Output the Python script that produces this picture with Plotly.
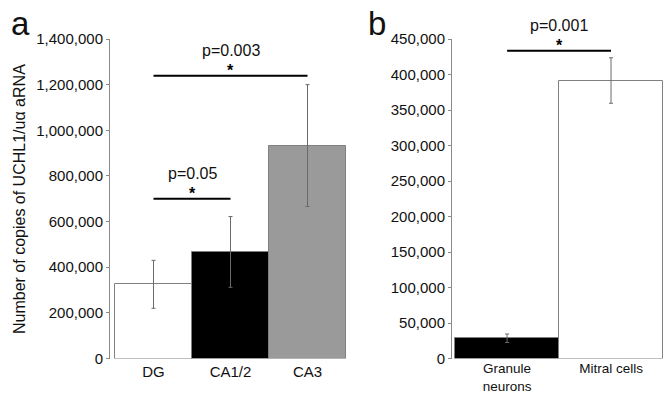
import plotly.graph_objects as go

# Panel a data
cats_a = ["DG", "CA1/2", "CA3"]
vals_a = [325000, 467000, 933000]
err_a = [105000, 155000, 267000]
colors_a = ["#ffffff", "#000000", "#9a9a9a"]

# Panel b data
cats_b = ["Granule neurons", "Mitral cells"]
ticklabels_b = ["Granule<br>neurons", "Mitral cells"]
vals_b = [28500, 391500]
err_b = [6000, 32000]
colors_b = ["#000000", "#ffffff"]

# significance brackets: (x0, x1, y, label)
sig_a = [(0, 2, 1239000, "p=0.003"), (0, 1, 700000, "p=0.05")]
sig_b = [(0, 1, 433600, "p=0.001")]

yticks_a = [0, 200000, 400000, 600000, 800000, 1000000, 1200000, 1400000]
yticks_b = [0, 50000, 100000, 150000, 200000, 250000, 300000, 350000, 400000, 450000]

FONT = "Liberation Sans, Arial, sans-serif"
TXT = "#111111"
W, H = 663, 393

fig = go.Figure()
fig.add_trace(go.Bar(
    x=list(range(len(cats_a))), y=vals_a, xaxis="x", yaxis="y",
    marker=dict(color=colors_a, line=dict(color="#808080", width=1)),
    error_y=dict(type="data", array=err_a, color="#6a6a6a", thickness=1, width=2),
    showlegend=False, width=1.0,
))
fig.add_trace(go.Bar(
    x=list(range(len(cats_b))), y=vals_b, xaxis="x2", yaxis="y2",
    marker=dict(color=colors_b, line=dict(color="#808080", width=1)),
    error_y=dict(type="data", array=err_b, color="#6a6a6a", thickness=1, width=2),
    showlegend=False, width=1.0,
))

def px_x(p):
    return p / W

def px_y(p):
    return (H - p) / H

ydom = [px_y(358.5), px_y(39)]
axis_common = dict(
    showgrid=False, zeroline=False, linecolor="#8a8a8a", linewidth=1,
    ticks="outside", ticklen=3, tickcolor="#8a8a8a", automargin=False,
    tickfont=dict(family=FONT, size=15, color=TXT),
)

fig.update_layout(
    width=W, height=H,
    margin=dict(l=0, r=0, t=0, b=0, autoexpand=False),
    paper_bgcolor="white", plot_bgcolor="white",
    bargap=0,
    font=dict(family=FONT, color=TXT),
    xaxis=dict(domain=[px_x(110), px_x(346)], range=[-0.565, 2.5],
               tickmode="array", tickvals=list(range(len(cats_a))), ticktext=cats_a,
               showline=False, showgrid=False, zeroline=False, ticks="",
               automargin=False, ticklabelstandoff=2,
               tickfont=dict(family=FONT, size=15, color=TXT)),
    yaxis=dict(domain=ydom, range=[0, 1400000], tickvals=yticks_a,
               tickformat=",d", showline=True, **axis_common),
    xaxis2=dict(domain=[px_x(452), 1.0], range=[-0.53, 1.5], anchor="y2",
                tickmode="array", tickvals=list(range(len(cats_b))), ticktext=ticklabels_b,
                showline=False, showgrid=False, zeroline=False, ticks="",
                automargin=False, ticklabelstandoff=0,
                tickfont=dict(family=FONT, size=13.5, color=TXT)),
    yaxis2=dict(domain=ydom, range=[0, 450000], tickvals=yticks_b, anchor="x2",
                tickformat=",d", showline=True, **axis_common),
)

shapes = []
annos = []
for xa, ya, sig in (("x", "y", sig_a), ("x2", "y2", sig_b)):
    for x0, x1, yv, lab in sig:
        shapes.append(dict(type="line", xref=xa, yref=ya, x0=x0, x1=x1, y0=yv, y1=yv,
                           line=dict(color="#000000", width=2)))
        annos.append(dict(xref=xa, yref=ya, x=(x0 + x1) / 2, y=yv, text=lab,
                          showarrow=False, yanchor="bottom", yshift=15,
                          font=dict(family=FONT, size=16, color=TXT)))
        annos.append(dict(xref=xa, yref=ya, x=(x0 + x1) / 2, y=yv, text="<b>*</b>",
                          showarrow=False, yanchor="bottom", yshift=-5,
                          font=dict(family=FONT, size=16, color="#000000")))

# y axis title
annos.append(dict(xref="paper", yref="paper", x=px_x(20), y=px_y(199),
                  text="Number of copies of UCHL1/uα aRNA", textangle=-90,
                  showarrow=False, xanchor="center", yanchor="middle",
                  font=dict(family=FONT, size=16, color=TXT)))

# panel letters
annos.append(dict(xref="paper", yref="paper", x=px_x(9), y=px_y(24), text="a",
                  showarrow=False, xanchor="left", yanchor="middle",
                  font=dict(family=FONT, size=33, color=TXT)))
annos.append(dict(xref="paper", yref="paper", x=px_x(366), y=px_y(24), text="b",
                  showarrow=False, xanchor="left", yanchor="middle",
                  font=dict(family=FONT, size=33, color=TXT)))

fig.update_layout(shapes=shapes, annotations=annos)
fig.write_html("out.html")
